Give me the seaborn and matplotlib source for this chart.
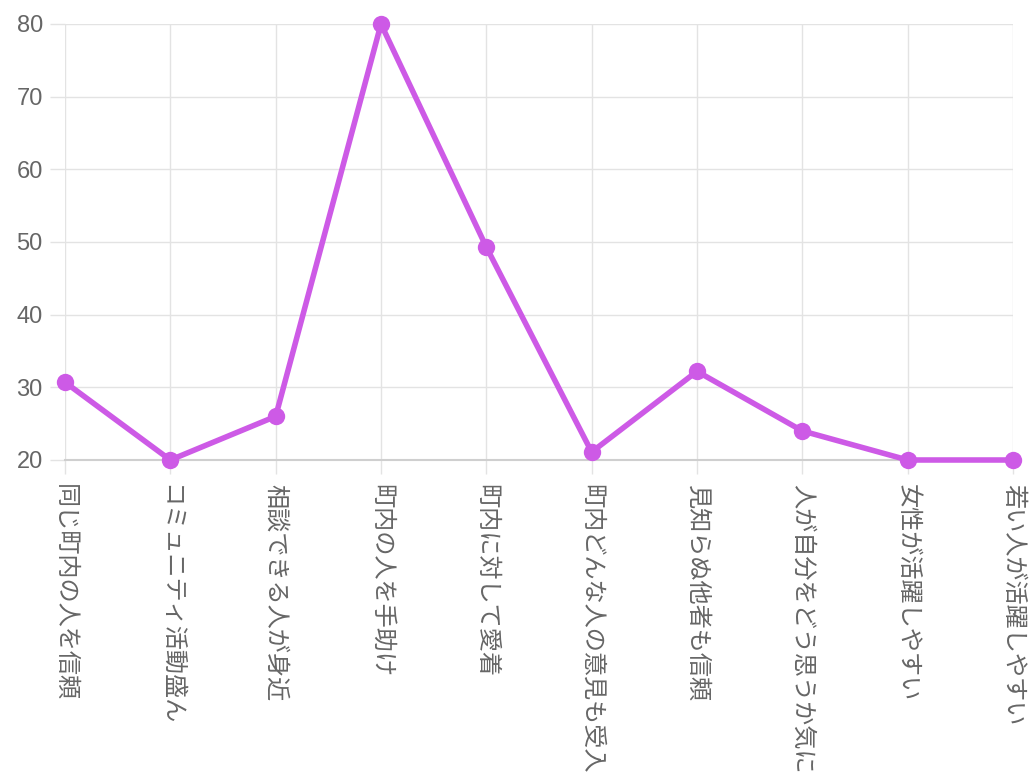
import matplotlib
matplotlib.use("Agg")
import matplotlib.pyplot as plt
import seaborn as sns
import pandas as pd

categories = ["同じ町内の人を信頼", "コミュニティ活動盛ん", "相談できる人が身近", "町内の人を手助け",
              "町内に対して愛着", "町内どんな人の意見も受入", "見知らぬ他者も信頼", "人が自分をどう思うか気に",
              "女性が活躍しやすい", "若い人が活躍しやすい"]
values = [30.7, 20.0, 26.0, 80.0, 49.3, 21.1, 32.2, 24.0, 20.0, 20.0]
yticks = [20, 30, 40, 50, 60, 70, 80]

sns.set_theme(style="white")
plt.rcParams['font.family'] = ['Noto Sans CJK JP', 'DejaVu Sans']

df = pd.DataFrame({"cat": categories, "val": values})

fig = plt.figure(figsize=(10.29, 7.80), dpi=100)
ax = fig.add_axes([65/1029, 1 - 460/780, (1013-65)/1029, (460-24)/780])

color = "#cd5ae6"
sns.lineplot(data=df, x="cat", y="val", sort=False, ax=ax, color=color,
             linewidth=4.0, marker="o", markersize=12.5, markeredgewidth=0,
             clip_on=False, zorder=5)

ax.set_xlim(0, len(categories) - 1)
ax.set_ylim(20, 80)
ax.set_yticks(yticks)
ax.set_xticks(range(len(categories)))
ax.set_xticklabels(categories, rotation=-90, fontsize=17.4, color="#666666",
                   va="top", ha="center")
ax.set_yticklabels([str(t) for t in yticks], fontsize=17, color="#666666",
                   family=['Liberation Sans', 'DejaVu Sans'])
ax.set_xlabel("")
ax.set_ylabel("")

ax.grid(True, color="#e3e3e3", linewidth=1.0)
ax.set_axisbelow(True)
for s in ["top", "right", "left"]:
    ax.spines[s].set_visible(False)
ax.spines["bottom"].set_color("#cfcfcf")
ax.spines["bottom"].set_linewidth(1.5)

ax.tick_params(axis="y", length=11, width=1.0, color="#e3e3e3", pad=5, left=True)
ax.tick_params(axis="x", length=10, width=1.0, color="#e3e3e3", pad=7, bottom=True)

fig.savefig("out.png", dpi=100, facecolor="white")
